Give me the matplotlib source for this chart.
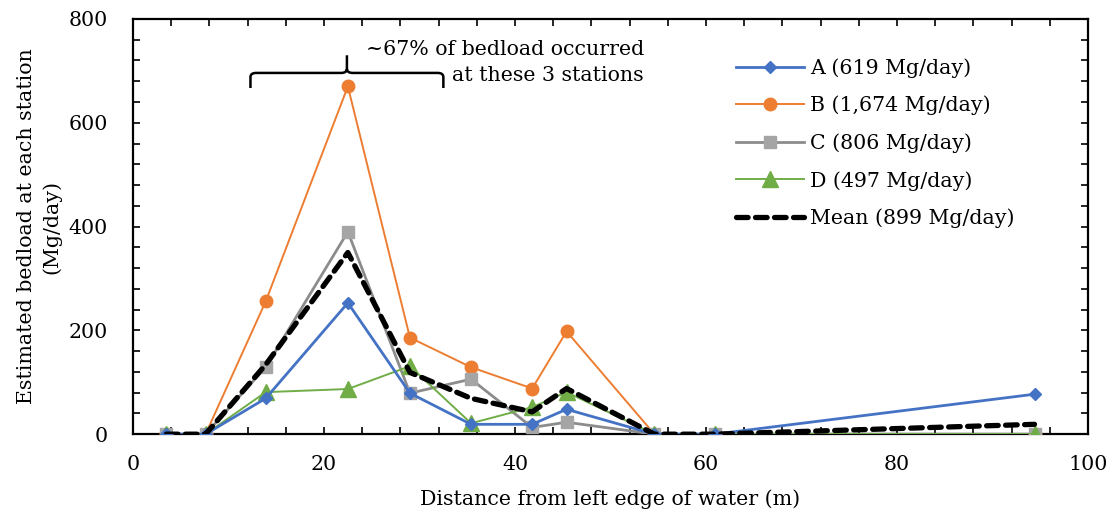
import matplotlib
matplotlib.use("Agg")
import matplotlib.pyplot as plt
from matplotlib.ticker import MultipleLocator
from matplotlib.path import Path
from matplotlib.patches import PathPatch

# Station positions (m from left edge of water)
distance = [3.5, 7.6, 13.9, 22.5, 29.0, 35.4, 41.8, 45.4, 54.6, 60.9, 94.4]

# Estimated bedload at each station (Mg/day) for each sampling
load_a = [0, 0, 69, 253, 79, 19, 19, 48, 0, 0, 77]
load_b = [0, 0, 256, 670, 186, 129, 88, 198, 0, 0, 0]
load_c = [0, 0, 129, 390, 79, 106, 13, 23, 0, 0, 0]
load_d = [0, 0, 81, 87, 131, 21, 52, 81, 0, 0, 0]
load_mean = [0, 0, 134, 350, 119, 69, 43, 88, 0, 0, 19]

labels = ["A (619 Mg/day)", "B (1,674 Mg/day)", "C (806 Mg/day)",
          "D (497 Mg/day)", "Mean (899 Mg/day)"]

plt.rcParams["font.family"] = ["DejaVu Serif"]
FS = 14.8

fig = plt.figure(figsize=(11.12, 5.12), dpi=100)
ax = fig.add_axes([0.1196, 0.152, 0.8588, 0.811])

ax.plot(distance, load_a, color="#4472C4", lw=2.0, marker="D", ms=6,
        label=labels[0], zorder=4)
ax.plot(distance, load_b, color="#ED7D31", lw=1.4, marker="o", ms=9,
        label=labels[1], zorder=3)
ax.plot(distance, load_c, color="#8C8C8C", lw=2.0, marker="s", ms=9,
        mfc="#A5A5A5", mec="#A5A5A5", label=labels[2], zorder=3)
ax.plot(distance, load_d, color="#70AD47", lw=1.4, marker="^", ms=11,
        label=labels[3], zorder=3)
ax.plot(distance, load_mean, color="black", lw=3.8, ls=(0, (2.2, 1.4)),
        dash_capstyle="round", label=labels[4], zorder=5)

ax.set_xlim(0, 100)
ax.set_ylim(0, 800)
ax.xaxis.set_major_locator(MultipleLocator(20))
ax.xaxis.set_minor_locator(MultipleLocator(4))
ax.yaxis.set_major_locator(MultipleLocator(200))
ax.yaxis.set_minor_locator(MultipleLocator(40))
ax.tick_params(which="both", direction="in", top=True, right=True,
               length=5, width=1.2, labelsize=FS, color="black")
ax.tick_params(axis="x", pad=15)
ax.tick_params(axis="y", pad=18)
for s in ax.spines.values():
    s.set_linewidth(1.6)

ax.set_xlabel("Distance from left edge of water (m)", fontsize=FS, labelpad=11)
ax.set_ylabel("Estimated bedload at each station\n(Mg/day)", fontsize=FS,
              linespacing=1.4, labelpad=5)

leg = ax.legend(loc="upper left", bbox_to_anchor=(0.612, 0.95), frameon=False,
                fontsize=FS, handlelength=3.3, labelspacing=0.87,
                handletextpad=0.3)

# Curly brace over the three high-load stations
xl, xc, xr = 12.3, 22.4, 32.5
yb, ym, yt = 667, 696, 730
verts = [(xl, yb), (xl, ym - 8), (xl, ym), (xl + 0.6, ym),
         (xc - 0.6, ym), (xc, ym), (xc, ym + 8), (xc, yt),
         (xc, ym + 8), (xc, ym), (xc + 0.6, ym),
         (xr - 0.6, ym), (xr, ym), (xr, ym - 8), (xr, yb)]
codes = [Path.MOVETO, Path.LINETO, Path.CURVE3, Path.CURVE3,
         Path.LINETO, Path.CURVE3, Path.CURVE3, Path.LINETO,
         Path.MOVETO, Path.CURVE3, Path.CURVE3,
         Path.LINETO, Path.CURVE3, Path.CURVE3, Path.LINETO]
ax.add_patch(PathPatch(Path(verts, codes), fill=False, lw=1.8,
                       edgecolor="black", zorder=6))
ax.text(53.5, 716, "~67% of bedload occurred\nat these 3 stations",
        ha="right", va="center", fontsize=FS, linespacing=1.45)

fig.savefig("out.png", dpi=100)
